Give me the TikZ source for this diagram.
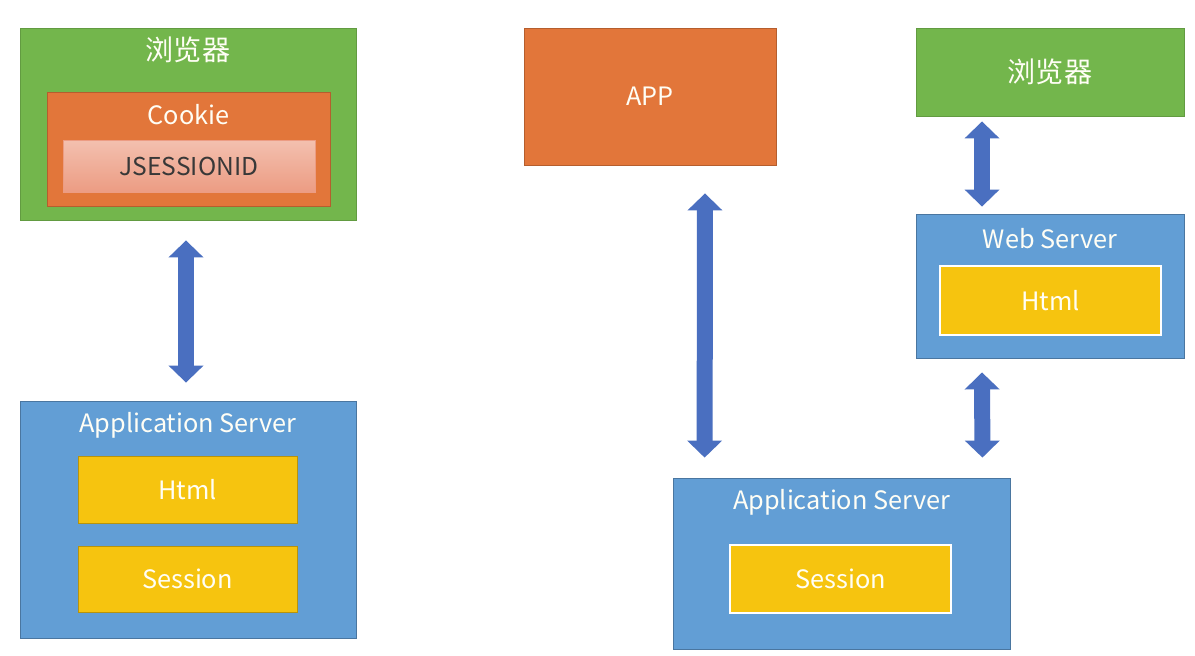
\documentclass[tikz,border=0pt]{standalone}
\usepackage{fontspec}
\setmainfont{Noto Sans CJK SC}
\usetikzlibrary{arrows.meta}
\definecolor{brgreen}{HTML}{73B64C}
\definecolor{ckorange}{HTML}{E2763A}
\definecolor{srvblue}{HTML}{629ED5}
\definecolor{hyellow}{HTML}{F6C40F}
\definecolor{arrblue}{HTML}{4A6FC0}
\definecolor{idtop}{HTML}{F3C0AF}
\definecolor{idbot}{HTML}{EC9C83}
\tikzset{
  box/.style={draw, inner sep=0pt, line width=0.5pt},
  browser/.style={box, fill=brgreen, draw=brgreen!85!black},
  cookie/.style={box, fill=ckorange, draw=ckorange!80!black},
  server/.style={box, fill=srvblue, draw=srvblue!75!black},
  part/.style={box, fill=hyellow, draw=hyellow!75!black},
  partw/.style={box, fill=hyellow, draw=white, line width=1.4pt},
  boxtext/.style={text=white!96!yellow, font=\fontsize{14.4}{17}\selectfont},
  cjktext/.style={text=white!96!yellow, font=\fontsize{16}{19}\selectfont},
  dblarrow/.style={arrblue, line width=0.32cm,
    {Triangle[width=0.68cm,length=0.34cm]}-{Triangle[width=0.68cm,length=0.34cm]}},
}
\begin{document}
\begin{tikzpicture}[x=0.02cm,y=-0.02cm]
\useasboundingbox[fill=white] (0,0) rectangle (1195,655);
%%Left: browser with cookie
\node[browser, minimum width=6.72cm, minimum height=3.84cm] (brw1) at (188,124) {};
\node[cjktext] (brw1t) at (188,50) {浏览器};
\node[cookie, minimum width=5.66cm, minimum height=2.28cm] (cookie) at (188.5,149) {};
\node[boxtext] (cookiet) at (188.5,115) {Cookie};
\node[box, draw=idbot, top color=idtop, bottom color=idbot, minimum width=5.04cm, minimum height=1.04cm,
  font=\fontsize{14}{17}\selectfont, text=black!78] (jsid) at (189,166) {JSESSIONID};
%%Left: application server
\node[server, minimum width=6.72cm, minimum height=4.74cm] (appsrv1) at (188,519.5) {};
\node[boxtext] (appsrv1t) at (188,425) {Application Server};
\node[part, boxtext, minimum width=4.38cm, minimum height=1.34cm] (html1) at (187.5,489.5) {Html};
\node[part, boxtext, minimum width=4.38cm, minimum height=1.32cm] (sess1) at (187.5,579) {Session};
%%Right: app
\node[cookie, boxtext, minimum width=5.04cm, minimum height=2.74cm] (app) at (650,96.5) {APP};
%%Right: browser and web server
\node[browser, cjktext, minimum width=5.36cm, minimum height=1.76cm] (brw2) at (1050,72) {浏览器};
\node[server, minimum width=5.36cm, minimum height=2.88cm] (websrv) at (1050,286) {};
\node[boxtext] (websrvt) at (1050,239) {Web Server};
\node[partw, boxtext, minimum width=4.42cm, minimum height=1.38cm] (html2) at (1050.5,300.5) {Html};
%%Right: application server
\node[server, minimum width=6.74cm, minimum height=3.42cm] (appsrv2) at (841.5,563.5) {};
\node[boxtext] (appsrv2t) at (841.5,502) {Application Server};
\node[partw, boxtext, minimum width=4.42cm, minimum height=1.36cm] (sess2) at (840.5,579) {Session};
%%Arrows
\draw[dblarrow] ([xshift=-0.04cm,yshift=-0.4cm]brw1.south) -- ([xshift=-0.04cm,yshift=0.36cm]appsrv1.north);
\draw[dblarrow] ([xshift=1.1cm,yshift=-0.56cm]app.south) -- ([xshift=0.64cm,yshift=0.4cm]appsrv2.north west);
\draw[dblarrow] ([xshift=-1.36cm,yshift=-0.1cm]brw2.south) -- ([xshift=-1.36cm,yshift=0.14cm]websrv.north);
\draw[dblarrow] ([xshift=-1.36cm,yshift=-0.28cm]websrv.south) -- ([xshift=-0.56cm,yshift=0.4cm]appsrv2.north east);
\end{tikzpicture}
\end{document}
